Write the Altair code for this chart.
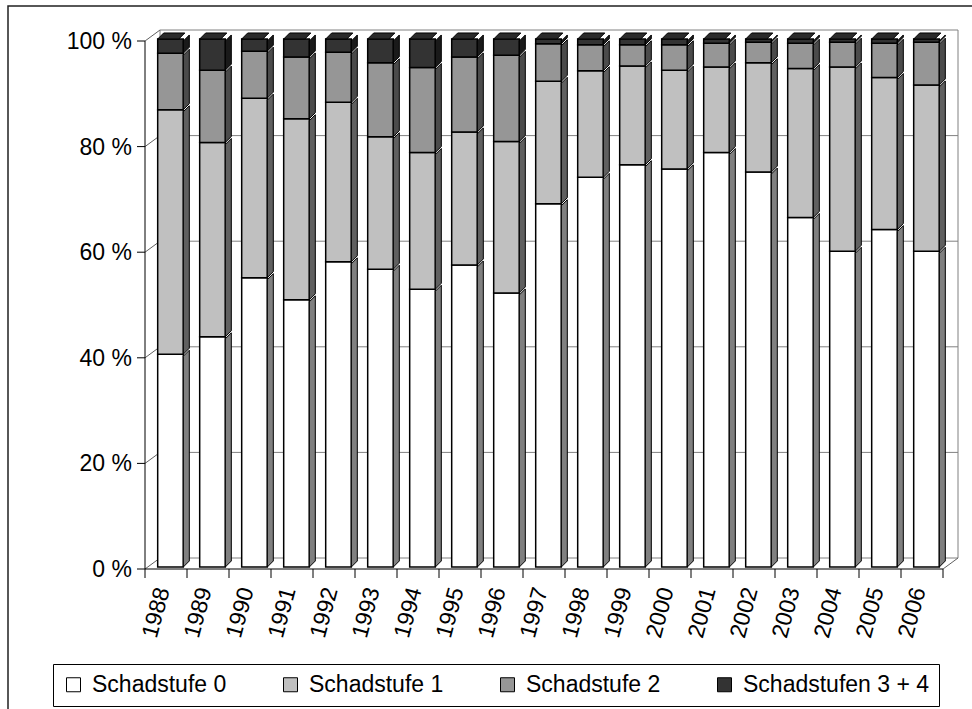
import altair as alt
import pandas as pd

# Share of trees per damage class (percent), one value per survey year
years = ["1988", "1989", "1990", "1991", "1992", "1993", "1994", "1995", "1996", "1997",
         "1998", "1999", "2000", "2001", "2002", "2003", "2004", "2005", "2006"]
series = ["Schadstufe 0", "Schadstufe 1", "Schadstufe 2", "Schadstufen 3 + 4"]
stufe_0 = [40.3, 43.6, 54.8, 50.6, 57.8, 56.4, 52.6, 57.2, 51.9, 68.8,
           73.8, 76.2, 75.4, 78.5, 74.8, 66.2, 59.8, 63.9, 59.8]
stufe_1 = [46.3, 36.8, 34.0, 34.3, 30.2, 25.1, 25.9, 25.2, 28.7, 23.2,
           20.2, 18.7, 18.7, 16.2, 20.7, 28.2, 34.9, 28.8, 31.5]
stufe_2 = [10.7, 13.7, 8.9, 11.7, 9.5, 14.0, 16.1, 14.2, 16.3, 7.1,
           4.9, 4.0, 4.8, 4.5, 3.9, 4.8, 4.7, 6.5, 8.1]
stufe_34 = [2.7, 5.9, 2.3, 3.4, 2.5, 4.5, 5.4, 3.4, 3.1, 0.9,
            1.1, 1.1, 1.1, 0.8, 0.6, 0.8, 0.6, 0.8, 0.6]
y_ticks = [0, 20, 40, 60, 80, 100]

# Styling
FONT = "Liberation Sans"
front_colors = ["#ffffff", "#c0c0c0", "#969696", "#333333"]
side_colors = ["#808080", "#606060", "#4b4b4b", "#1a1a1a"]
top_color = "#2b2b2b"
wall_color = "#808080"

# Pseudo-3D geometry (bar extent inside each category, in x units; depth in data units)
BAR_L, BAR_R = 0.195, 0.805
DEPTH_X, DEPTH_Y = 0.143, 1.14
FRONT_DX, FRONT_DY = 4.5, -2
WALL_DX, WALL_DY = 15, -11

N = len(years)
W, H = 798, 528

xs = alt.Scale(domain=[0, N], nice=False, zero=False)
ys = alt.Scale(domain=[0, 100], nice=False, zero=False)

# Build tables for the stacked segments, their side faces and the top faces
seg_rows, side_rows, top_rows = [], [], []
for i, yr in enumerate(years):
    base = 0.0
    for k, vals in enumerate([stufe_0, stufe_1, stufe_2, stufe_34]):
        lo, hi = base, base + vals[i]
        seg_rows.append(dict(year=yr, series=series[k], xl=i + BAR_L, xr=i + BAR_R, lo=lo, hi=hi))
        seg = f"{yr}-{k}"
        side_rows.append(dict(seg=seg, k=k, x=i + BAR_R, lo=lo, hi=hi))
        side_rows.append(dict(seg=seg, k=k, x=i + BAR_R + DEPTH_X, lo=lo + DEPTH_Y, hi=hi + DEPTH_Y))
        base = hi
    top_rows.append(dict(year=yr, y=base, xa=i + BAR_L, xb=i + BAR_R))
    top_rows.append(dict(year=yr, y=base + DEPTH_Y, xa=i + BAR_L + DEPTH_X, xb=i + BAR_R + DEPTH_X))

segs = pd.DataFrame(seg_rows)
sides = pd.DataFrame(side_rows)
tops = pd.DataFrame(top_rows)

grid_df = pd.DataFrame({"v": y_ticks, "x0": 0, "x1": N})
edge_df = pd.DataFrame({"x": [0, N], "y0": 0, "y1": 100})
diag_df = pd.DataFrame({"x": [0] * len(y_ticks) + [N], "v": y_ticks + [0]})
tick_df = pd.DataFrame({"x": list(range(N + 1)), "y": 0})
label_df = pd.DataFrame({"year": years, "x": [i + 0.5 for i in range(N)], "y": 0})
axis_df = pd.DataFrame({"x0": [0], "x1": [N], "y0": [0], "y1": [100]})
ylab_df = pd.DataFrame({"v": y_ticks, "x": 0, "text": [f"{v} %" for v in y_ticks]})

# Back wall: gridlines and side edges
grid = alt.Chart(grid_df).mark_rule(
    color=wall_color, strokeWidth=1,
    xOffset=WALL_DX, x2Offset=WALL_DX, yOffset=WALL_DY
).encode(
    x=alt.X("x0:Q", scale=xs, axis=None), x2="x1:Q",
    y=alt.Y("v:Q", scale=ys, axis=None),
)
edges = alt.Chart(edge_df).mark_rule(
    color=wall_color, strokeWidth=1,
    xOffset=WALL_DX, yOffset=WALL_DY, y2Offset=WALL_DY
).encode(
    x=alt.X("x:Q", scale=xs, axis=None),
    y=alt.Y("y0:Q", scale=ys, axis=None), y2="y1:Q",
)
# Diagonals joining the value axis and the floor corner to the back wall
diags = alt.Chart(diag_df).mark_rule(
    color="#606060", strokeWidth=1, x2Offset=WALL_DX, y2Offset=WALL_DY
).encode(
    x=alt.X("x:Q", scale=xs, axis=None), x2="x:Q",
    y=alt.Y("v:Q", scale=ys, axis=None), y2="v:Q",
)

# Value axis: line, ticks and percent labels
y_line = alt.Chart(axis_df).mark_rule(color="black", strokeWidth=1).encode(
    x=alt.X("x0:Q", scale=xs, axis=None),
    y=alt.Y("y0:Q", scale=ys, axis=None), y2="y1:Q",
)
y_tick_marks = alt.Chart(ylab_df).mark_rule(color="black", strokeWidth=1, x2Offset=-8).encode(
    x=alt.X("x:Q", scale=xs, axis=None), x2="x:Q",
    y=alt.Y("v:Q", scale=ys, axis=None),
)
y_labels = alt.Chart(ylab_df).mark_text(
    font=FONT, fontSize=23, color="black", align="right", baseline="middle",
    xOffset=-13, yOffset=1
).encode(
    x=alt.X("x:Q", scale=xs, axis=None),
    y=alt.Y("v:Q", scale=ys, axis=None),
    text="text:N",
)

# Category axis: baseline, ticks between bars, rotated year labels
x_line = alt.Chart(axis_df).mark_rule(color="black", strokeWidth=1).encode(
    x=alt.X("x0:Q", scale=xs, axis=None), x2="x1:Q",
    y=alt.Y("y0:Q", scale=ys, axis=None),
)
x_ticks = alt.Chart(tick_df).mark_rule(color="black", strokeWidth=1, y2Offset=9).encode(
    x=alt.X("x:Q", scale=xs, axis=None),
    y=alt.Y("y:Q", scale=ys, axis=None), y2="y:Q",
)
x_labels = alt.Chart(label_df).mark_text(
    font=FONT, fontSize=23, color="black", angle=285,
    align="right", baseline="middle", xOffset=-3, yOffset=19
).encode(
    x=alt.X("x:Q", scale=xs, axis=None),
    y=alt.Y("y:Q", scale=ys, axis=None),
    text="year:N",
)

# Front faces of the stacked bars (carry the legend)
fronts = alt.Chart(segs).mark_rect(
    stroke="black", strokeWidth=1.5, xOffset=FRONT_DX, x2Offset=FRONT_DX,
    yOffset=FRONT_DY, y2Offset=FRONT_DY
).encode(
    x=alt.X("xl:Q", scale=xs, axis=None), x2="xr:Q",
    y=alt.Y("lo:Q", scale=ys, axis=None), y2="hi:Q",
    fill=alt.Fill("series:N", scale=alt.Scale(domain=series, range=front_colors), legend=alt.Legend(
        orient="none", legendX=-92, legendY=623, direction="horizontal", title=None,
        symbolType="square", symbolSize=196, symbolStrokeColor="black", symbolStrokeWidth=1,
        labelFont=FONT, labelFontSize=23, labelColor="black", labelOffset=7, labelLimit=400,
        columnPadding=0, padding=9, strokeColor="black", fillColor="white", gridAlign="all",
    )),
)

# Right-hand side faces, one layer per damage class
side_layers = []
for k in range(len(series)):
    side_layers.append(
        alt.Chart(sides[sides["k"] == k]).mark_area(
            orient="vertical", fill=side_colors[k], stroke="black", strokeWidth=1,
            xOffset=FRONT_DX, yOffset=FRONT_DY
        ).encode(
            x=alt.X("x:Q", scale=xs, axis=None),
            y=alt.Y("lo:Q", scale=ys, axis=None), y2="hi:Q",
            detail="seg:N",
        )
    )

# Top faces of the stacks
top_faces = alt.Chart(tops).mark_area(
    orient="horizontal", fill=top_color, stroke="black", strokeWidth=1,
    xOffset=FRONT_DX, yOffset=FRONT_DY
).encode(
    y=alt.Y("y:Q", scale=ys, axis=None),
    x=alt.X("xa:Q", scale=xs, axis=None), x2="xb:Q",
    detail="year:N",
)

# Outer frame of the chart area
frame = alt.Chart(pd.DataFrame({"k": [0]})).mark_rect(
    fillOpacity=0, stroke="#202020", strokeWidth=1.5
).encode(
    x=alt.value(-137), x2=alt.value(845),
    y=alt.value(-35), y2=alt.value(690),
)

chart = alt.layer(
    frame, grid, edges, diags, y_line, y_tick_marks, y_labels, x_line, x_ticks, x_labels,
    fronts, *side_layers, top_faces
).properties(
    width=W, height=H,
    autosize=alt.AutoSizeParams(type="none"),
    padding={"left": 145, "top": 41, "right": 29, "bottom": 140},
    background="white",
).configure_view(stroke=None)

chart.save("out.html", embed_options={"renderer": "svg", "actions": False})
